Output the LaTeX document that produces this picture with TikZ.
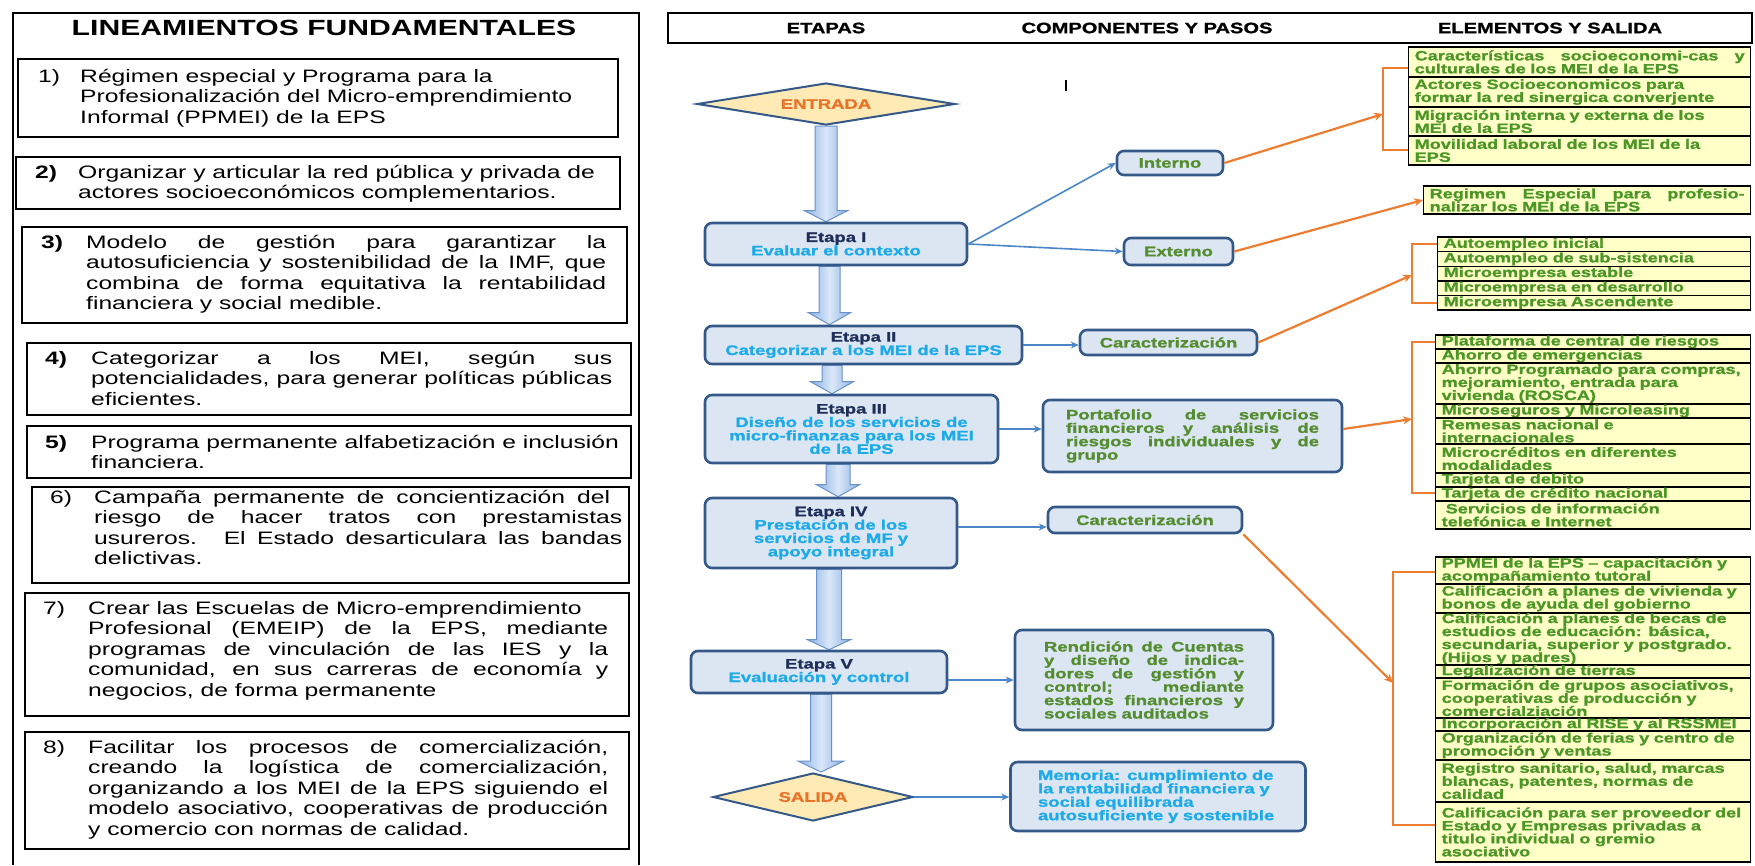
\documentclass[tikz,border=0pt]{standalone}
\usepackage{fontspec}
\setmainfont{Liberation Sans}[FakeStretch=1.34, BoldFeatures={FakeBold=1.2}]
\newfontfamily\leftfam{Liberation Sans}[FakeStretch=1.37]
\usetikzlibrary{shapes.geometric,arrows.meta,calc,backgrounds}
\definecolor{ygreen}{RGB}{76,150,38}
\definecolor{mgreen}{RGB}{84,140,48}
\definecolor{yfill}{RGB}{255,255,200}
\definecolor{bfill}{RGB}{220,230,242}
\definecolor{bdraw}{RGB}{52,88,135}
\definecolor{bline}{RGB}{74,134,200}
\definecolor{oline}{RGB}{237,125,49}
\definecolor{etnavy}{RGB}{31,45,90}
\definecolor{cyanT}{RGB}{28,170,232}
\definecolor{dfill}{RGB}{255,233,180}
\definecolor{dtext}{RGB}{232,116,42}
\definecolor{aedge}{RGB}{140,178,225}
\definecolor{amid}{RGB}{218,231,249}
\definecolor{adraw}{RGB}{105,145,202}
\newcommand\mylfs{\leftfam\fontsize{18}{20.6}\selectfont\lineskiplimit=-50pt }
\newcommand\myyfs{\fontsize{13.5}{13}\selectfont\lineskiplimit=-50pt }
\newcommand\myefs{\fontsize{13.8}{13.4}\selectfont\lineskiplimit=-50pt }
\newcommand\myhfs{\fontsize{15}{16}\selectfont}
\newcommand\mytfs{\leftfam\fontsize{22}{24}\selectfont}
\newcommand\jline[2]{\hbox to #1pt{\spaceskip=.28em plus 10em minus .1em\relax #2}}
\newcommand\pjline[2]{\leavevmode\hbox to #1pt{\spaceskip=.28em plus 10em minus .1em\relax #2}}
\newcommand\nline[1]{\hbox{#1}}
\newcommand\bigarr[6]{%
 \path[bigarrow] let \p1=(#1), \p2=(#2) in
  ({#3pt-#4pt},\y1) -- ({#3pt-#4pt},{\y2+#6pt}) -- ({#3pt-#5pt},{\y2+#6pt}) -- (#3pt,\y2)
  -- ({#3pt+#5pt},{\y2+#6pt}) -- ({#3pt+#4pt},{\y2+#6pt}) -- ({#3pt+#4pt},\y1) -- cycle;}
\tikzset{
 lbox/.style={draw=black, line width=1.4pt},
 lrect/.style={draw=black, line width=1.3pt, rectangle, inner sep=0pt},
 ltext/.style={anchor=base west, inner sep=0pt, font=\mylfs},
 ybox/.style={draw=black, line width=1.4pt, fill=yfill, anchor=west, inner xsep=6pt, inner ysep=0pt, align=left, text=ygreen, font=\myyfs\bfseries},
 etbox/.style={draw=bdraw, line width=2.6pt, fill=bfill, rounded corners=7pt, align=center, font=\myefs\bfseries, inner sep=2pt},
 cbox/.style={etbox, text=mgreen},
 barrow/.style={draw=bline, line width=1.6pt, -{Stealth[length=8pt,width=7pt]}},
 oarrow/.style={draw=oline, line width=2.2pt, -{Stealth[length=9pt,width=8pt]}},
 obrack/.style={draw=oline, line width=2.2pt},
 bigarrow/.style={draw=adraw, line width=1pt, left color=aedge, right color=aedge, middle color=amid},
 dia/.style={diamond, draw=bdraw, line width=2pt, fill=dfill, inner sep=0pt, text=dtext, font=\myefs\bfseries},
 htext/.style={font=\myhfs\bfseries},
}
\begin{document}
\begin{tikzpicture}[x=1pt,y=-1pt]
\useasboundingbox (0,0) rectangle (1755,865);
% ---------------- left panel
\draw[lbox] (13,865) -- (13,13) -- (639,13) -- (639,865);
\node[font=\mytfs\bfseries] (title) at (324,28) {LINEAMIENTOS FUNDAMENTALES};
\node[lrect, minimum width=600pt, minimum height=78pt] (box1) at (318,98) {};
\node[lrect, minimum width=604pt, minimum height=52pt] (box2) at (318,183) {};
\node[lrect, minimum width=605pt, minimum height=96pt] (box3) at (324.5,275) {};
\node[lrect, minimum width=604pt, minimum height=72pt] (box4) at (329,379) {};
\node[lrect, minimum width=604pt, minimum height=52pt] (box5) at (329,452) {};
\node[lrect, minimum width=597pt, minimum height=96pt] (box6) at (330.5,535) {};
\node[lrect, minimum width=604pt, minimum height=123pt] (box7) at (327,654.5) {};
\node[lrect, minimum width=604pt, minimum height=117pt] (box8) at (327,790.5) {};
\node[ltext] (n1) at (38,82) {1)};
\node[ltext] (t1) at (80,82) {\vtop{\nline{Régimen especial y Programa para la}\nline{Profesionalización del Micro-emprendimiento}\nline{Informal (PPMEI) de la EPS}}};
\node[ltext, font=\mylfs\bfseries] (n2) at (35,178) {2)};
\node[ltext] (t2) at (78,178) {\vtop{\nline{Organizar y articular la red pública y privada de}\nline{actores socioeconómicos complementarios.}}};
\node[ltext, font=\mylfs\bfseries] (n3) at (41,248) {3)};
\node[ltext] (t3) at (86,248) {\vtop{\jline{520}{Modelo de gestión para garantizar la}\jline{520}{autosuficiencia y sostenibilidad de la IMF, que}\jline{520}{combina de forma equitativa la rentabilidad}\nline{financiera y social medible.}}};
\node[ltext, font=\mylfs\bfseries] (n4) at (45,364) {4)};
\node[ltext] (t4) at (91,364) {\vtop{\jline{521}{Categorizar a los MEI, según sus}\jline{521}{potencialidades, para generar políticas públicas}\nline{eficientes.}}};
\node[ltext, font=\mylfs\bfseries] (n5) at (45,448) {5)};
\node[ltext] (t5) at (91,448) {\vtop{\nline{Programa permanente alfabetización e inclusión}\nline{financiera.}}};
\node[ltext] (n6) at (50,503) {6)};
\node[ltext] (t6) at (94,503) {\vtop{\jline{516}{Campaña permanente de concientización del}\jline{528}{riesgo de hacer tratos con prestamistas}\jline{528}{usureros. El Estado desarticulara las bandas}\nline{delictivas.}}};
\node[ltext] (n7) at (43,614) {7)};
\node[ltext] (t7) at (88,614) {\vtop{\nline{Crear las Escuelas de Micro-emprendimiento}\jline{520}{Profesional (EMEIP) de la EPS, mediante}\jline{520}{programas de vinculación de las IES y la}\jline{520}{comunidad, en sus carreras de economía y}\nline{negocios, de forma permanente}}};
\node[ltext] (n8) at (43,753) {8)};
\node[ltext] (t8) at (88,753) {\vtop{\jline{520}{Facilitar los procesos de comercialización,}\jline{520}{creando la logística de comercialización,}\jline{520}{organizando a los MEI de la EPS siguiendo el}\jline{520}{modelo asociativo, cooperativas de producción}\nline{y comercio con normas de calidad.}}};
% ---------------- header
\node[lrect, minimum width=1084pt, minimum height=30pt] (hdr) at (1210,28) {};
\node[htext] (h1) at (826,28) {ETAPAS};
\node[htext] (h2) at (1147,28) {COMPONENTES Y PASOS};
\node[htext] (h3) at (1550,28) {ELEMENTOS Y SALIDA};
\node[font=\fontsize{16}{18}\selectfont] (stray) at (1066,86) {I};
% ---------------- stages
\node[dia, minimum width=258pt, minimum height=42pt, aspect=6] (entrada) at (826,104) {ENTRADA};
\node[etbox, minimum width=262pt, minimum height=42pt] (et1) at (836,244) {\textcolor{etnavy}{Etapa I}\\\textcolor{cyanT}{Evaluar el contexto}};
\node[etbox, minimum width=317pt, minimum height=38pt] (et2) at (863.5,345) {\textcolor{etnavy}{Etapa II}\\\textcolor{cyanT}{Categorizar a los MEI de la EPS}};
\node[etbox, minimum width=293pt, minimum height=68pt] (et3) at (851.5,429) {\textcolor{etnavy}{Etapa III}\\\textcolor{cyanT}{Diseño de los servicios de}\\\textcolor{cyanT}{micro-finanzas para los MEI}\\\textcolor{cyanT}{de la EPS}};
\node[etbox, minimum width=252pt, minimum height=70pt] (et4) at (831,533) {\textcolor{etnavy}{Etapa IV}\\\textcolor{cyanT}{Prestación de los}\\\textcolor{cyanT}{servicios de MF y}\\\textcolor{cyanT}{apoyo integral}};
\node[etbox, minimum width=256pt, minimum height=42pt] (et5) at (819,672) {\textcolor{etnavy}{Etapa V}\\\textcolor{cyanT}{Evaluación y control}};
\node[dia, minimum width=200pt, minimum height=48pt, aspect=4.2] (salida) at (813,797) {SALIDA};
% ---------------- components
\node[cbox, minimum width=106pt, minimum height=24pt] (interno) at (1170,163) {Interno};
\node[cbox, minimum width=109pt, minimum height=27pt] (externo) at (1178.5,251.5) {Externo};
\node[cbox, minimum width=177pt, minimum height=25pt] (car2) at (1168.5,342.5) {Caracterización};
\node[cbox, minimum width=299pt, minimum height=72pt, text width=253pt, align=left] (port) at (1192.5,436) {\pjline{253}{Portafolio de servicios}\\\pjline{253}{financieros y análisis de}\\\pjline{253}{riesgos individuales y de}\\grupo};
\node[cbox, minimum width=194pt, minimum height=26pt] (car4) at (1145,520) {Caracterización};
\node[cbox, minimum width=258pt, minimum height=100pt, text width=200pt, align=left] (rend) at (1144,680) {\pjline{200}{Rendición de Cuentas}\\\pjline{200}{y diseño de indica-}\\\pjline{200}{dores de gestión y}\\\pjline{200}{control; mediante}\\\pjline{200}{estados financieros y}\\sociales auditados};
\node[etbox, text=cyanT, minimum width=295pt, minimum height=69pt, text width=240pt, align=left] (memo) at (1158,796.5) {Memoria: cumplimiento de\\la rentabilidad financiera y\\social equilibrada\\autosuficiente y sostenible};
% ---------------- elements: group A
\node[ybox, minimum height=30pt, text width=330pt] (a1) at (1408,62) {\pjline{330}{Características socioeconomi-cas y}\\culturales de los MEI de la EPS};
\node[ybox, minimum height=30pt, text width=330pt] (a2) at (1408,92) {Actores Socioeconomicos para\\formar la red sinergica converjente};
\node[ybox, minimum height=29pt, text width=330pt] (a3) at (1408,121.5) {Migración interna y externa de los\\MEI de la EPS};
\node[ybox, minimum height=29pt, text width=330pt] (a4) at (1408,150.5) {Movilidad laboral de los MEI de la\\EPS};
% group B
\node[ybox, minimum height=28pt, text width=315pt] (gB) at (1423,200) {\pjline{315}{Regimen Especial para profesio-}\\nalizar los MEI de la EPS};
% group C
\node[ybox, minimum height=14.6pt, text width=301pt] (c1) at (1437,244.3) {Autoempleo inicial};
\node[ybox, minimum height=14.6pt, text width=301pt] (c2) at (1437,258.9) {Autoempleo de sub-sistencia};
\node[ybox, minimum height=14.6pt, text width=301pt] (c3) at (1437,273.5) {Microempresa estable};
\node[ybox, minimum height=14.6pt, text width=301pt] (c4) at (1437,288.1) {Microempresa en desarrollo};
\node[ybox, minimum height=14.6pt, text width=301pt] (c5) at (1437,302.7) {Microempresa Ascendente};
% group D
\node[ybox, minimum height=14pt, text width=303pt] (d1) at (1435,342) {Plataforma de central de riesgos};
\node[ybox, minimum height=14pt, text width=303pt] (d2) at (1435,356) {Ahorro de emergencias};
\node[ybox, minimum height=41pt, text width=303pt] (d3) at (1435,383.5) {Ahorro Programado para compras,\\mejoramiento, entrada para\\vivienda (ROSCA)};
\node[ybox, minimum height=14pt, text width=303pt] (d4) at (1435,411) {Microseguros y Microleasing};
\node[ybox, minimum height=26pt, text width=303pt] (d5) at (1435,431) {Remesas nacional e\\internacionales};
\node[ybox, minimum height=29pt, text width=303pt] (d6) at (1435,458.5) {Microcréditos en diferentes\\modalidades};
\node[ybox, minimum height=14pt, text width=303pt] (d7) at (1435,480) {Tarjeta de debito};
\node[ybox, minimum height=14pt, text width=303pt] (d8) at (1435,494) {Tarjeta de crédito nacional};
\node[ybox, minimum height=28pt, text width=303pt] (d9) at (1435,515) {\hspace*{4pt}Servicios de información\\telefónica e Internet};
% group E
\node[ybox, minimum height=27pt, text width=303pt] (e1) at (1435,570.5) {PPMEI de la EPS – capacitación y\\acompañamiento tutoral};
\node[ybox, minimum height=29pt, text width=303pt] (e2) at (1435,598.5) {Calificación a planes de vivienda y\\bonos de ayuda del gobierno};
\node[ybox, minimum height=52pt, text width=303pt] (e3) at (1435,639) {Calificación a planes de becas de\\estudios de educación: básica,\\secundaria, superior y postgrado.\\(Hijos y padres)};
\node[ybox, minimum height=13pt, text width=303pt] (e4) at (1435,671.5) {Legalización de tierras};
\node[ybox, minimum height=40pt, text width=303pt] (e5) at (1435,698) {Formación de grupos asociativos,\\cooperativas de producción y\\comercialziación};
\node[ybox, minimum height=13pt, text width=303pt] (e6) at (1435,724.5) {Incorporación al RISE y al RSSMEI};
\node[ybox, minimum height=29pt, text width=303pt] (e7) at (1435,745.5) {Organización de ferias y centro de\\promoción y ventas};
\node[ybox, minimum height=42pt, text width=303pt] (e8) at (1435,781) {Registro sanitario, salud, marcas\\blancas, patentes, normas de\\calidad};
\node[ybox, minimum height=60pt, text width=303pt] (e9) at (1435,832) {Calificación para ser proveedor del\\Estado y Empresas privadas a\\titulo individual o gremio\\asociativo};
% ---------------- big arrows (background)
\begin{scope}[on background layer]
\bigarr{entrada.south}{et1.north}{826}{11}{21.5}{11}
\bigarr{et1.south}{et2.north}{829.5}{10.5}{21}{12}
\bigarr{et2.south}{et3.north}{832}{10}{21.5}{12}
\bigarr{et3.south}{et4.north}{838}{12}{21.5}{12}
\bigarr{et4.south}{et5.north}{829}{12.5}{21.5}{10}
\bigarr{et5.south}{salida.north}{821}{10.5}{23}{11}
\end{scope}
% ---------------- blue connectors
\draw[barrow] (et1.east) -- (interno.west);
\draw[barrow] (et1.east) -- (externo.west);
\draw[barrow] (et2.east) -- (et2.east -| car2.west);
\draw[barrow] (et3.east) -- (et3.east -| port.west);
\coordinate (e4o) at ([yshift=6pt]et4.east);
\draw[barrow] (e4o) -- (e4o -| car4.west);
\coordinate (e5o) at ([yshift=-8pt]et5.east);
\draw[barrow] (e5o) -- (e5o -| rend.west);
\draw[barrow] (salida.east) -- (salida.east -| memo.west);
% ---------------- orange brackets and connectors
\draw[obrack] (1408,68) -- (1383,68) -- (1383,150) -- (1408,150);
\draw[obrack] (1437,244) -- (1412,244) -- (1412,303) -- (1437,303);
\draw[obrack] (1435,342) -- (1412,342) -- (1412,493) -- (1435,493);
\draw[obrack] (1435,572) -- (1393,572) -- (1393,825) -- (1435,825);
\coordinate (bA) at (1383,114);
\coordinate (bC) at (1412,275);
\coordinate (bD) at (1412,419);
\coordinate (bE) at (1393,683);
\draw[oarrow] (interno.east) -- (bA);
\draw[oarrow] (externo.east) -- (gB.west);
\draw[oarrow] (car2.east) -- (bC);
\draw[oarrow] ([yshift=7pt]port.east) -- (bD);
\draw[oarrow] (car4.south east) -- (bE);
\end{tikzpicture}
\end{document}
